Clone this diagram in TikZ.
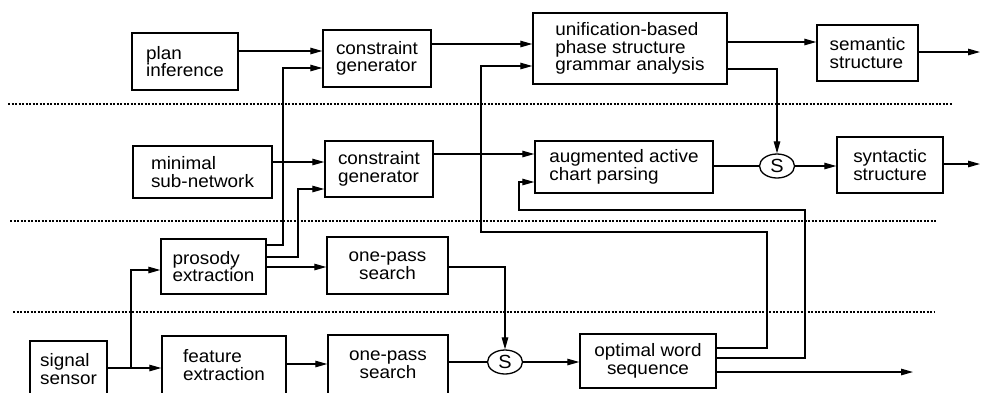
\documentclass[tikz,border=0pt]{standalone}
\usepackage{fontspec}
\setmainfont{Liberation Sans}[FakeStretch=1.05]
\usetikzlibrary{arrows.meta,shapes.geometric}
\begin{document}
\begin{tikzpicture}[x=1pt,y=-1pt,
  box/.style={draw, line width=1.4pt, align=left, inner sep=0pt,
    font=\fontsize{18}{17.5}\selectfont},
  cbox/.style={box, align=center},
  sum/.style={draw, ellipse, line width=1.3pt, inner sep=0pt,
    minimum width=35pt, minimum height=24pt, font=\fontsize{19}{19}\selectfont},
  conn/.style={line width=1.2pt},
  arr/.style={conn, -{Triangle[length=12pt,width=6.5pt]}},
  dotline/.style={line width=1.8pt, dash pattern=on 2.2pt off 1.3pt}]
\useasboundingbox (0,0) rectangle (981,392);
\clip (0,0) rectangle (981,392);
% separators
\draw[dotline] (8,104) -- (952,104);
\draw[dotline] (10,221) -- (936,221);
\draw[dotline] (13,312) -- (934,312);
% boxes
\node[box, minimum width=106pt, minimum height=57pt] (plan) at (185,61.5) {plan\\inference};
\node[box, minimum width=139pt, minimum height=52pt] (minimal) at (202.5,172) {minimal\\sub-network};
\node[box, minimum width=108pt, minimum height=57pt] (cg1) at (377,58.5) {constraint\\generator};
\node[box, minimum width=108pt, minimum height=56pt] (cg2) at (379,169) {constraint\\generator};
\node[box, minimum width=194pt, minimum height=71pt] (unif) at (630,48.5) {unification-based\\phase structure\\grammar analysis};
\node[box, minimum width=178pt, minimum height=52pt] (aug) at (624,167) {augmented active\\chart parsing};
\node[box, minimum width=101pt, minimum height=56pt] (sem) at (867.5,53) {semantic\\structure};
\node[box, minimum width=106pt, minimum height=56pt] (syn) at (890,165) {syntactic\\structure};
\node[box, minimum width=105pt, minimum height=55pt] (prosody) at (213.5,266.5) {prosody\\extraction};
\node[cbox, minimum width=121pt, minimum height=57pt] (ops1) at (387.5,265.5) {one-pass\\search};
\node[box, minimum width=77pt, minimum height=56pt] (signal) at (68.5,369) {signal\\sensor};
\node[box, minimum width=124pt, minimum height=58pt] (feature) at (224,365) {feature\\extraction};
\node[cbox, minimum width=120pt, minimum height=59pt] (ops2) at (388,364.5) {one-pass\\search};
\node[cbox, minimum width=136pt, minimum height=54pt] (opt) at (648,361) {optimal word\\sequence};
\node[sum] (S1) at (777,166) {S};
\node[sum] (S2) at (505,362) {S};
% levels
\coordinate (y42) at (0,42);
\coordinate (y44) at (0,44);
\coordinate (y51) at (0,51);
\coordinate (y52) at (0,52);
\coordinate (y66) at (0,66);
\coordinate (y68) at (0,68);
\coordinate (y69) at (0,69);
\coordinate (y154) at (0,154);
\coordinate (y162) at (0,162);
\coordinate (y164) at (0,164);
\coordinate (y182) at (0,182);
\coordinate (y189) at (0,189);
\coordinate (y210) at (0,210);
\coordinate (y232) at (0,232);
\coordinate (y245) at (0,245);
\coordinate (y257) at (0,257);
\coordinate (y267) at (0,267);
\coordinate (y270) at (0,270);
\coordinate (y348) at (0,348);
\coordinate (y358) at (0,358);
\coordinate (y364) at (0,364);
\coordinate (y368) at (0,368);
\coordinate (y372) at (0,372);
\coordinate (x131) at (131,0);
\coordinate (x283) at (283,0);
\coordinate (x298) at (298,0);
\coordinate (x481) at (481,0);
\coordinate (x519) at (519,0);
\coordinate (x767) at (767,0);
\coordinate (x805) at (805,0);
\coordinate (semout) at (980,52);
\coordinate (synout) at (980,164);
\coordinate (optout) at (913,372);
% connectors
\draw[arr] (plan.east |- y51) -- (cg1.west |- y51);
\draw[arr] (prosody.east |- y245) -| (x283 |- y68) -- (cg1.west |- y68);
\draw[arr] (minimal.east |- y162) -- (cg2.west |- y162);
\draw[arr] (prosody.east |- y257) -| (x298 |- y189) -- (cg2.west |- y189);
\draw[arr] (cg1.east |- y44) -- (unif.west |- y44);
\draw[arr] (cg2.east |- y154) -- (aug.west |- y154);
\draw[arr] (unif.east |- y42) -- (sem.west |- y42);
\draw[arr] (sem.east |- semout) -- (semout);
\draw[arr] (unif.east |- y69) -| (S1.north);
\draw[conn] (aug.east |- S1.west) -- (S1.west);
\draw[arr] (S1.east) -- (syn.west |- S1.east);
\draw[arr] (syn.east |- synout) -- (synout);
\draw[arr] (signal.east |- y368) -- (feature.west |- y368);
\draw[arr] (x131 |- y368) |- (prosody.west |- y270);
\draw[arr] (prosody.east |- y267) -- (ops1.west |- y267);
\draw[arr] (feature.east |- y364) -- (ops2.west |- y364);
\draw[arr] (ops1.east |- y267) -| (S2.north);
\draw[conn] (ops2.east |- S2.west) -- (S2.west);
\draw[arr] (S2.east) -- (opt.west |- S2.east);
\draw[arr] (opt.east |- optout) -- (optout);
\draw[arr] (opt.east |- y348) -| (x767 |- y232) -| (x481 |- y66) -- (unif.west |- y66);
\draw[arr] (opt.east |- y358) -| (x805 |- y210) -| (x519 |- y182) -- (aug.west |- y182);
\end{tikzpicture}
\end{document}
